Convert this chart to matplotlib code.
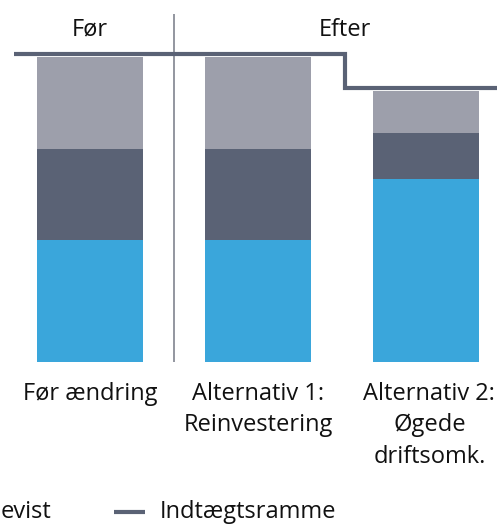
import matplotlib
matplotlib.use("Agg")
import matplotlib.pyplot as plt

categories = ["Før ændring", "Alternativ 1:\nReinvestering", "Alternativ 2:\nØgede\ndriftsomk."]
blue_vals = [40, 40, 60]
dark_vals = [30, 30, 15]
light_vals = [30, 30, 14]
frame_before = 101
frame_after = 90
group_labels = ["Før", "Efter"]
legend_partial = "evist"
legend_line = "Indtægtsramme"

c_light = "#9d9fab"
c_dark = "#5a6275"
c_blue = "#3aa6db"
c_text = "#111111"

plt.rcParams['font.family'] = ['Open Sans', 'DejaVu Sans']

W, H = 497, 524
fig = plt.figure(figsize=(W/100, H/100), dpi=100)
ax = fig.add_axes([0, 0, 1, 1])
px_per_x = 168.0
px_per_y = 3.05
x0_px = 90.0
base_px = 362.0
ax.set_xlim(-x0_px/px_per_x, (W - x0_px)/px_per_x)
ax.set_ylim(-(H - base_px)/px_per_y, base_px/px_per_y)
ax.axis('off')

xs = list(range(len(categories)))
width = 106/168
bottoms2 = [b + d for b, d in zip(blue_vals, dark_vals)]
ax.bar(xs, blue_vals, width, color=c_blue, linewidth=0)
ax.bar(xs, dark_vals, width, bottom=blue_vals, color=c_dark, linewidth=0)
ax.bar(xs, light_vals, width, bottom=bottoms2, color=c_light, linewidth=0)

# divider
ax.plot([0.5, 0.5], [0, 114], color="#80848f", lw=1.2, solid_capstyle='butt')

# income frame step line
step_x = 1.518
ax.plot([-0.45, step_x, step_x, 2.6], [frame_before, frame_before, frame_after, frame_after],
        color=c_dark, lw=3.0, solid_joinstyle='miter', solid_capstyle='butt')

fs = 17
ax.text(0, 109.0, group_labels[0], ha='center', va='center', fontsize=fs, color=c_text)
ax.text(step_x, 109.0, group_labels[1], ha='center', va='center', fontsize=fs, color=c_text)

label_dx = [0, 0, 0.02]
for x, dx, lab in zip(xs, label_dx, categories):
    ax.text(x + dx, -6.5, lab, ha='center', va='top', fontsize=fs, color=c_text, linespacing=1.42)

# legend (partially cut off on the left)
fig.text(1/W, 1 - 512/H, legend_partial, ha='left', va='center', fontsize=fs, color=c_text)
fig.add_artist(plt.Line2D([114/W, 145/W], [1 - 512/H, 1 - 512/H], color=c_dark, lw=3.0,
                          solid_capstyle='butt'))
fig.text(160/W, 1 - 512/H, legend_line, ha='left', va='center', fontsize=fs, color=c_text)

fig.savefig("out.png", dpi=100)
